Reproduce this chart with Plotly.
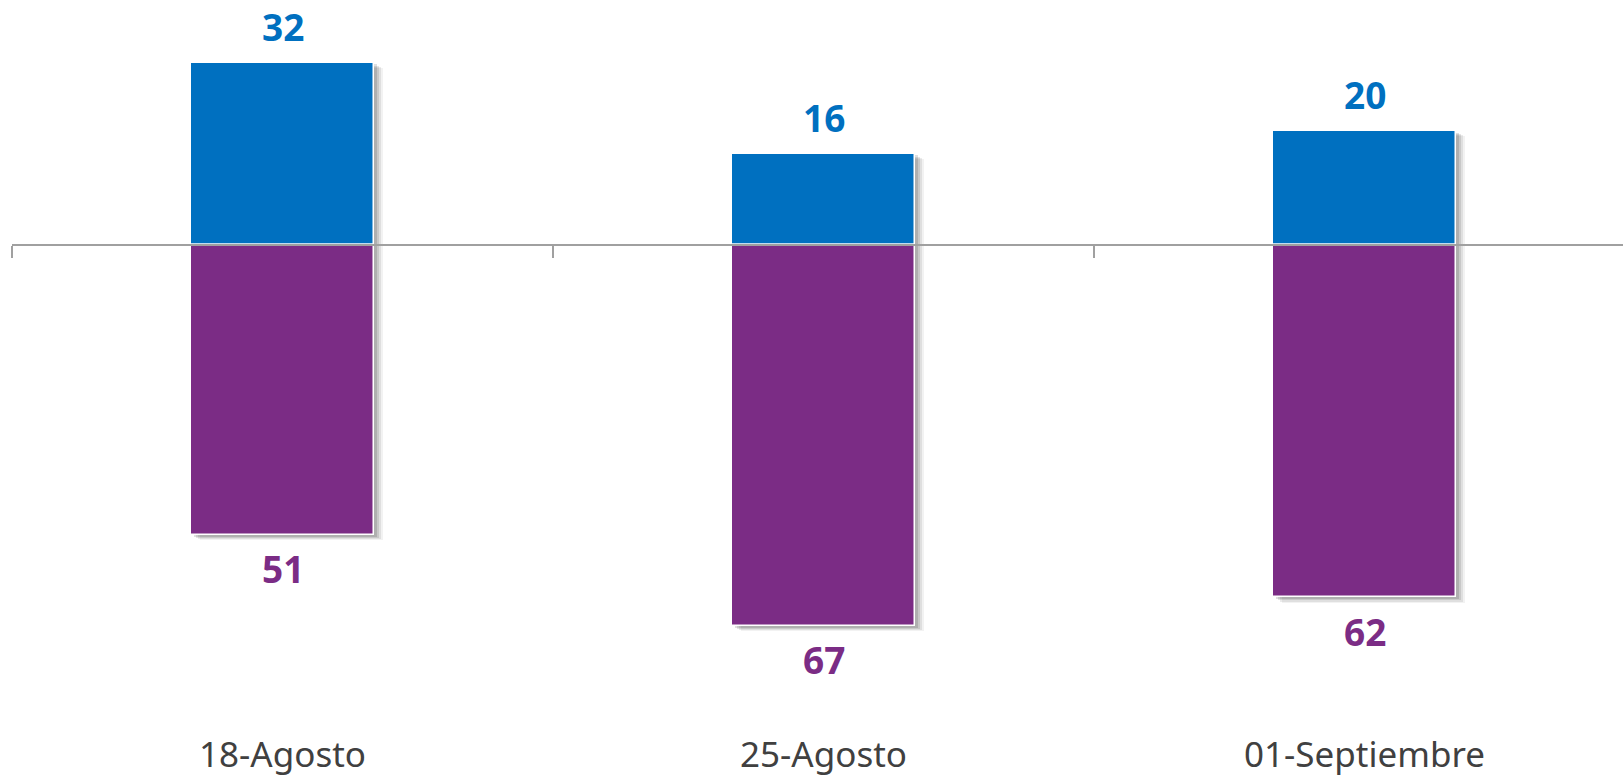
import plotly.graph_objects as go

categories = ["18-Agosto", "25-Agosto", "01-Septiembre"]
positive_values = [32, 16, 20]
negative_values = [-51, -67, -62]

BLUE = "#0070C0"
PURPLE = "#7B2C85"
AXIS_GRAY = "#A0A0A0"

W, H = 1623, 777
margin_l, margin_r, margin_t, margin_b = 12, 0, 0, 42
cat_px = 541.0
plot_w = W - margin_l - margin_r
x_range = [-0.5, -0.5 + plot_w / cat_px]
px_per_unit = 5.72
plot_h = H - margin_t - margin_b
zero_px = 246 - margin_t
y_top = zero_px / px_per_unit
y_bot = -(plot_h - zero_px) / px_per_unit
y_range = [y_bot, y_top]
zero_frac = (0 - y_bot) / (y_top - y_bot)

bar_w = 183 / cat_px
off = -bar_w / 2

fig = go.Figure()

# soft drop shadows
shadow_layers = [(3, 0.12), (5, 0.10), (7, 0.08), (9, 0.05)]
for dpx, op in shadow_layers:
    dx = dpx / cat_px
    dy = dpx * 0.6 / px_per_unit
    fig.add_trace(go.Bar(
        x=categories, y=[v - dy for v in positive_values],
        width=bar_w, offset=off + dx,
        marker=dict(color=f"rgba(0,0,0,{op})", line=dict(width=0)),
        hoverinfo="skip", showlegend=False))
    fig.add_trace(go.Bar(
        x=categories, y=[v - dy for v in negative_values],
        width=bar_w, offset=off + dx,
        marker=dict(color=f"rgba(0,0,0,{op})", line=dict(width=0)),
        hoverinfo="skip", showlegend=False))

fig.add_trace(go.Bar(
    x=categories, y=positive_values, width=bar_w, offset=off,
    marker=dict(color=BLUE, line=dict(color="white", width=1.5)),
    showlegend=False))
fig.add_trace(go.Bar(
    x=categories, y=negative_values, width=bar_w, offset=off,
    marker=dict(color=PURPLE, line=dict(color="white", width=1.5)),
    showlegend=False))

# invisible trace to carry the zero-axis ticks
fig.add_trace(go.Scatter(x=categories, y=[0, 0, 0], xaxis="x2", mode="markers",
                         marker=dict(opacity=0), hoverinfo="skip", showlegend=False))

annotations = []
for c, v in zip(categories, positive_values):
    annotations.append(dict(x=c, y=v, text=f"<b>{v}</b>", showarrow=False,
                            yanchor="middle", yshift=36,
                            font=dict(family="Noto Sans", size=37, color=BLUE)))
for c, v in zip(categories, negative_values):
    annotations.append(dict(x=c, y=v, text=f"<b>{abs(v)}</b>", showarrow=False,
                            yanchor="middle", yshift=-34,
                            font=dict(family="Noto Sans", size=37, color=PURPLE)))

fig.update_layout(
    width=W, height=H,
    margin=dict(l=margin_l, r=margin_r, t=margin_t, b=margin_b, pad=0),
    paper_bgcolor="white", plot_bgcolor="white",
    barmode="overlay", bargap=0,
    annotations=annotations,
    xaxis=dict(type="category", range=x_range, showline=False, ticks="",
               showgrid=False, zeroline=False,
               tickfont=dict(family="Noto Sans", size=35, color="#404040")),
    xaxis2=dict(type="category", overlaying="x", anchor="free", position=zero_frac,
                side="bottom", range=x_range, showline=True, linecolor=AXIS_GRAY,
                linewidth=2, ticks="outside", tickson="boundaries", ticklen=12,
                tickwidth=2, tickcolor=AXIS_GRAY, showticklabels=False,
                showgrid=False, zeroline=False, layer="above traces"),
    yaxis=dict(range=y_range, visible=False, showgrid=False, zeroline=False),
)

fig.write_html(
    "out.html",
    config={"displayModeBar": False},
    post_script="document.body.style.margin='0';document.body.style.overflow='hidden';",
)
